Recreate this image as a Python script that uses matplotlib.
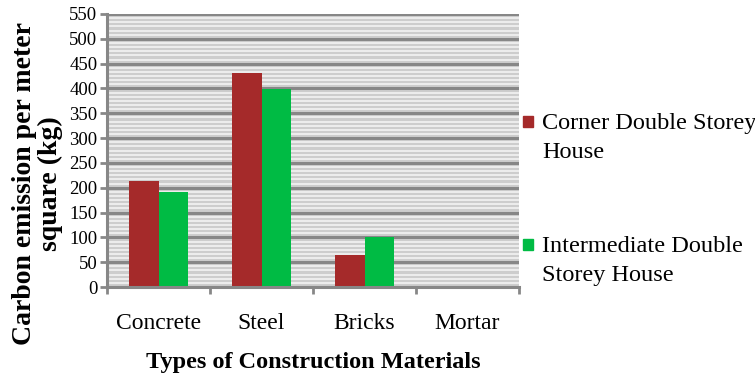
import numpy as np
import matplotlib.pyplot as plt
from matplotlib.patches import Rectangle

materials = ["Concrete", "Steel", "Bricks", "Mortar"]
corner = [213, 431, 65, 0]
intermediate = [192, 399, 100, 0]
series_names = ["Corner Double Storey\nHouse", "Intermediate Double\nStorey House"]
colors = ["#a52a2a", "#00bb44"]

plt.rcParams["font.family"] = "Liberation Serif"

W, H = 755, 379
fig = plt.figure(figsize=(W/100, H/100), dpi=100)
ax = fig.add_axes([107/W, 1-287/H, (519-107)/W, (287-14)/H])

# striped background like the original pattern fill
ax.set_facecolor("#cdcdcd")
for y in np.arange(0, 550, 50/6):
    ax.axhline(y, color="#f0f0f0", lw=1.3, zorder=0)
for y in np.arange(0, 551, 50):
    ax.axhline(y, color="#878787", lw=2.2, zorder=1)

x = np.arange(len(materials)) + 0.5
w = 0.285
ax.bar(x - w/2, corner, w, color=colors[0], zorder=2)
ax.bar(x + w/2, intermediate, w, color=colors[1], zorder=2)

ax.set_xlim(0, 4)
ax.set_ylim(0, 550)
ax.set_yticks(np.arange(0, 551, 50))
ax.set_xticks(np.arange(0, 5))
ax.set_xticklabels([])
ax.set_xticks(x, minor=True)
ax.set_xticklabels(materials, minor=True, fontsize=17)
ax.tick_params(axis="x", which="minor", length=0, pad=19)
ax.tick_params(axis="x", which="major", length=5, width=2, color="#878787")
ax.tick_params(axis="y", length=5, width=2, color="#878787", labelsize=13.5, pad=2)

for s in ["top", "right"]:
    ax.spines[s].set_visible(False)
for s in ["left", "bottom"]:
    ax.spines[s].set_color("#878787")
    ax.spines[s].set_linewidth(2.2)

ax.set_xlabel("Types of Construction Materials", fontsize=17.5, fontweight="bold", labelpad=13)
ax.set_ylabel("Carbon emission per meter\nsquare (kg)", fontsize=20, fontweight="bold",
              linespacing=1.0)
ax.yaxis.set_label_coords(-0.108, 0.38)

# legend drawn by hand so the swatch sits beside the first line
for name, c, ytop in zip(series_names, colors, [113, 236]):
    fig.patches.append(Rectangle((523/W, 1-(ytop+14)/H), 10/W, 11/H,
                                 transform=fig.transFigure, color=c))
    fig.text(542/W, 1-ytop/H, name, fontsize=17.5, va="top", ha="left", linespacing=1.5)

fig.savefig("out.png", dpi=100)
